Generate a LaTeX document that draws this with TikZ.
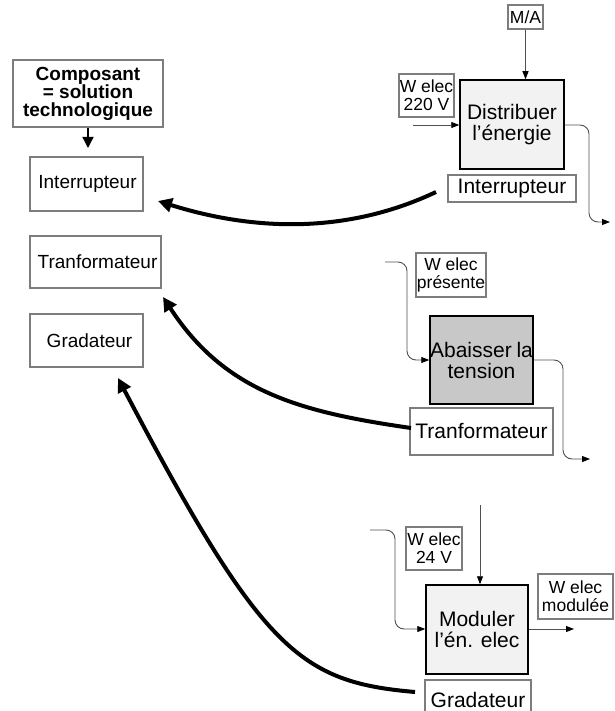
\documentclass[tikz,border=0pt]{standalone}
\usepackage{fontspec}
\setmainfont{Liberation Sans}
\usetikzlibrary{arrows.meta}
\definecolor{edge}{RGB}{125,125,125}
\definecolor{wire}{RGB}{80,80,80}
\definecolor{lightfill}{RGB}{242,242,242}
\definecolor{darkfill}{RGB}{200,200,200}
\begin{document}
\begin{tikzpicture}[x=1pt,y=-1pt,
  tagbox/.style={draw=edge,line width=1.1pt,inner sep=0pt,align=center,
    font=\fontsize{17.5}{18}\selectfont},
  namebox/.style={draw=edge,line width=1.1pt,inner sep=0pt,align=center,
    font=\fontsize{19}{21}\selectfont},
  compbox/.style={draw=edge,line width=1.1pt,inner sep=0pt,align=center,
    font=\fontsize{21}{23}\selectfont},
  funcbox/.style={draw=black,line width=1.5pt,inner sep=0pt,align=center,
    font=\fontsize{21}{21}\selectfont},
  wire/.style={draw=wire,line width=0.9pt,rounded corners=9pt,
    -{Triangle[length=8pt,width=6pt,color=black]}},
  link/.style={draw=black,line width=4pt,
    -{Triangle[length=14pt,width=14pt]}}]
\useasboundingbox (0,0) rectangle (614,711);

% heading and component column
\node[namebox,minimum width=150,minimum height=67,
  font=\bfseries\fontsize{19}{18}\selectfont] (comp) at (88,93.5)
  {Composant\\= solution\\technologique};
\coordinate (compend) at (88,148);
\draw[line width=1.3pt,-{Triangle[length=11pt,width=11pt]}] (comp.south) -- (compend);

\node[namebox,minimum width=113,minimum height=54] (intL) at (86.5,184) {\hspace{2pt}Interrupteur};
\node[namebox,minimum width=131,minimum height=52] (tranL) at (95.5,262) {\hspace{4pt}Tranformateur};
\node[namebox,minimum width=113,minimum height=53] (gradL) at (86.5,340.5) {\hspace{6pt}Gradateur};

% first function: Distribuer l'energie
\node[tagbox,minimum width=35,minimum height=24] (ma) at (525.5,17) {M/A};
\node[funcbox,fill=lightfill,minimum width=104,minimum height=89] (dist) at (512,124.5)
  {Distribuer\\l’énergie};
\node[tagbox,minimum width=55,minimum height=43] (w220) at (426.5,95.5) {W elec\\220 V};
\node[compbox,minimum width=128,minimum height=27] (intR) at (512,188.5) {Interrupteur};
\coordinate (in1) at (413,125);
\coordinate (out1) at (610,222);
\draw[wire] (ma.south) -- (ma.south |- dist.north);
\draw[wire] (in1) -- (dist.west |- in1);
\draw[wire] (dist.east |- in1) -- (589,125) -- (589,222) -- (out1);

% second function: Abaisser la tension
\node[tagbox,minimum width=70,minimum height=44] (wpres) at (451,275) {W elec\\présente};
\node[funcbox,fill=darkfill,minimum width=103,minimum height=88] (abai) at (481.5,360)
  {Abaisser\hspace{-1pt} la\\tension};
\node[compbox,minimum width=143,minimum height=47] (tranR) at (481.5,431.5) {Tranformateur};
\coordinate (in2) at (385,262);
\coordinate (out2) at (590,459);
\draw[wire] (in2) -- (407,262) -- (407,360) -- (abai.west);
\draw[wire] (abai.east) -- (563,360) -- (563,459) -- (out2);

% third function: Moduler l'energie electrique
\node[tagbox,minimum width=56,minimum height=43] (w24) at (434,548.5) {W elec\\24 V};
\node[funcbox,fill=lightfill,minimum width=102,minimum height=89] (mod) at (477,629.5)
  {Moduler\\l’én. elec};
\node[tagbox,minimum width=75,minimum height=45] (wmod) at (575.5,596.5) {W elec\\modulée};
\node[compbox,minimum width=106,minimum height=40] (gradR) at (478,700) {Gradateur};
\coordinate (top3) at (480,505);
\coordinate (in3) at (370,530);
\coordinate (out3) at (574,629);
\draw[wire] (top3) -- (top3 |- mod.north);
\draw[wire] (in3) -- (395,530) -- (395,629) -- (mod.west |- 0,629);
\draw[wire] (mod.east |- out3) -- (out3);

% links from each solution to the component column
\coordinate (s1) at (436,192);
\coordinate (e1) at (158,201);
\coordinate (s2) at (411,428);
\coordinate (e2) at (163,297);
\coordinate (s3) at (415,692);
\coordinate (e3) at (118,378);
\draw[link] (s1) .. controls (360,228) and (270,236) .. (e1);
\draw[link] (s2) .. controls (300,412) and (225,392) .. (e2);
\draw[link] (s3) .. controls (300,682) and (262,652) .. (e3);
\end{tikzpicture}
\end{document}
